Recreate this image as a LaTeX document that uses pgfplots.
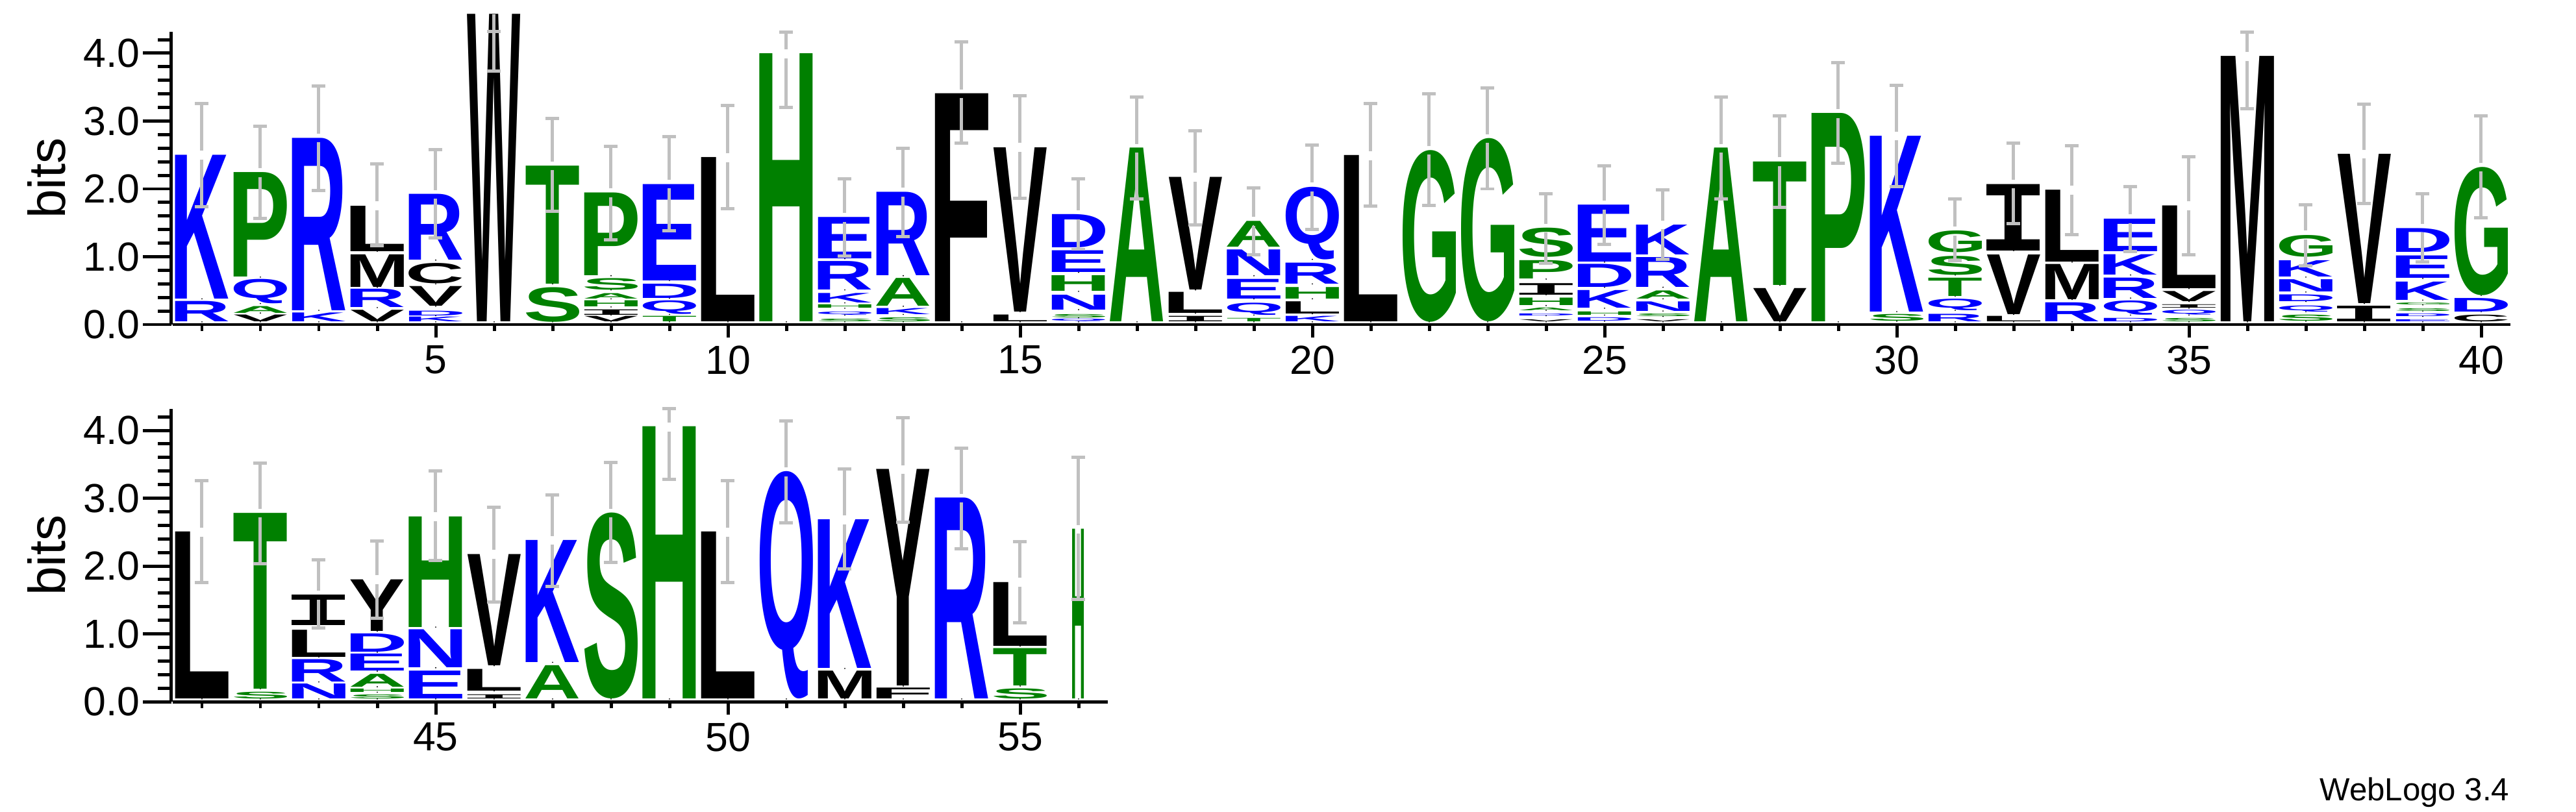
\documentclass[border=0pt]{standalone}
\usepackage{fontspec}
\setmainfont{Liberation Sans}
\newfontfamily\logofont{Liberation Sans}
\newfontfamily\logomono{Liberation Mono}
\usepackage{graphicx}
\usepackage{xcolor}
\usepackage{pgfplots}
\usepackage{pgfplotstable}
\pgfplotsset{compat=1.18}

% letter colours
\definecolor{lgreen}{RGB}{0,128,0}
\definecolor{lblue}{RGB}{0,0,255}
\definecolor{errgray}{RGB}{192,192,192}
\colorlet{cP}{lgreen}\colorlet{cA}{lgreen}\colorlet{cS}{lgreen}
\colorlet{cT}{lgreen}\colorlet{cG}{lgreen}\colorlet{cH}{lgreen}
\colorlet{cK}{lblue}\colorlet{cR}{lblue}\colorlet{cD}{lblue}
\colorlet{cE}{lblue}\colorlet{cN}{lblue}\colorlet{cQ}{lblue}
\colorlet{cL}{black}\colorlet{cV}{black}\colorlet{cI}{black}\colorlet{cM}{black}
\colorlet{cF}{black}\colorlet{cW}{black}\colorlet{cY}{black}\colorlet{cC}{black}

% one glyph, cut to its ink box, stretched to width x height
% (I is taken from the mono face, which has the cross bars)
\newbox\lbox
\newcommand\logoglyph[3]{%
  \setbox\lbox\hbox{\if#1I\logomono\else\logofont\fi\bfseries
    \kern-\XeTeXglyphbounds1 \XeTeXcharglyph`#1\relax
    #1%
    \kern-\XeTeXglyphbounds3 \XeTeXcharglyph`#1\relax}%
  \textcolor{c#1}{\resizebox*{#2}{#3}{\box\lbox}}}
\newcommand\logonode{\edef\tmpL{\pgfplotspointmeta}%
  \expandafter\logoglyph\expandafter{\tmpL}{\ww pt}{\hh pt}}

% x y(bottom) h(ink height, bits) w(width share) letter
\pgfplotstableread{
x y h w L
1 0.04 0.30 1 R
1 0.38 2.12 1 K
2 0.04 0.10 1 V
2 0.17 0.10 1 A
2 0.31 0.36 1 Q
2 0.70 1.54 1 P
3 0.04 0.13 1 K
3 0.21 2.54 1 R
4 0.04 0.17 1 V
4 0.25 0.27 1 R
4 0.55 0.48 1 M
4 1.08 0.67 1 L
5 0.04 0.07 1 K
5 0.13 0.07 1 D
5 0.27 0.29 1 V
5 0.60 0.30 1 C
5 0.95 0.97 1 R
6 0.04 4.53 1 W
7 0.04 0.51 1 S
7 0.60 1.74 1 T
8 0.04 0.08 1 V
8 0.14 0.08 1 I
8 0.26 0.09 1 H
8 0.38 0.08 1 A
8 0.51 0.17 1 S
8 0.72 1.22 1 P
9 0.04 0.08 1 T
9 0.15 0.20 1 Q
9 0.39 0.21 1 D
9 0.65 1.42 1 E
10 0.04 2.42 1 L
11 0.04 3.95 1 H
12 0.04 0.04 1 S
12 0.14 0.05 1 Q
12 0.24 0.05 1 H
12 0.32 0.14 1 K
12 0.51 0.42 1 R
12 0.97 0.61 1 E
13 0.04 0.06 1 S
13 0.15 0.09 1 K
13 0.27 0.41 1 A
13 0.72 1.23 1 R
14 0.04 3.36 1 F
15 0.04 0.10 1 L
15 0.19 2.42 1 V
16 0.04 0.04 1 Q
16 0.10 0.05 1 S
16 0.22 0.22 1 N
16 0.49 0.23 1 H
16 0.77 0.32 1 E
16 1.13 0.49 1 D
17 0.04 2.56 1 A
18 0.04 0.08 1 I
18 0.17 0.31 1 L
18 0.51 1.66 1 V
19 0.04 0.05 1 T
19 0.14 0.18 1 Q
19 0.38 0.29 1 E
19 0.72 0.38 1 N
19 1.14 0.38 1 A
20 0.04 0.08 1 K
20 0.16 0.18 1 L
20 0.38 0.17 1 H
20 0.60 0.31 1 R
20 0.96 1.07 1 Q
21 0.04 2.45 1 L
22 0.04 2.53 1 G
23 0.04 2.70 1 G
24 0.04 0.03 1 V
24 0.13 0.03 1 D
24 0.21 0.04 1 A
24 0.28 0.11 1 H
24 0.44 0.17 1 I
24 0.67 0.27 1 P
24 0.99 0.43 1 S
25 0.05 0.05 1 D
25 0.14 0.05 1 H
25 0.24 0.26 1 K
25 0.55 0.34 1 D
25 0.92 0.84 1 E
26 0.04 0.03 1 V
26 0.12 0.04 1 S
26 0.20 0.14 1 N
26 0.38 0.12 1 A
26 0.55 0.44 1 R
26 1.03 0.44 1 K
27 0.04 2.56 1 A
28 0.04 0.49 1 V
28 0.58 1.82 1 T
29 0.04 3.07 1 P
30 0.05 0.10 1 S
30 0.19 2.59 1 K
31 0.04 0.11 1 R
31 0.21 0.17 1 Q
31 0.42 0.27 1 T
31 0.73 0.28 1 S
31 1.06 0.32 1 G
32 0.04 0.08 1 L
32 0.15 0.88 1 V
32 1.09 0.98 1 I
33 0.04 0.28 1 R
33 0.37 0.52 1 M
33 0.92 1.06 1 L
34 0.04 0.05 1 D
34 0.14 0.21 1 Q
34 0.39 0.30 1 R
34 0.73 0.30 1 K
34 1.08 0.48 1 E
35 0.04 0.05 1 S
35 0.14 0.07 1 Q
35 0.24 0.05 1 I
35 0.34 0.15 1 V
35 0.53 1.22 1 L
36 0.04 3.91 1 M
37 0.05 0.09 1 S
37 0.19 0.09 1 Q
37 0.34 0.10 1 D
37 0.48 0.18 1 N
37 0.70 0.24 1 K
37 1.00 0.32 1 G
38 0.04 0.23 1 I
38 0.31 2.20 1 V
39 0.04 0.03 1 E
39 0.12 0.04 1 D
39 0.20 0.04 1 S
39 0.29 0.03 1 G
39 0.36 0.27 1 K
39 0.68 0.33 1 E
39 1.07 0.35 1 D
40 0.04 0.10 1 C
40 0.19 0.20 1 D
40 0.43 1.89 1 G
}\toplogo

\pgfplotstableread{
x y h w L
41 0.04 2.46 1 L
42 0.04 0.10 1 S
42 0.19 2.59 1 T
43 0.04 0.22 1 N
43 0.29 0.33 1 R
43 0.66 0.40 1 L
43 1.12 0.45 1 I
44 0.04 0.06 1 S
44 0.14 0.05 1 H
44 0.22 0.19 1 A
44 0.45 0.25 1 E
44 0.73 0.27 1 D
44 1.04 0.76 1 Y
45 0.04 0.41 1 E
45 0.50 0.56 1 N
45 1.10 1.63 1 H
46 0.04 0.06 1 I
46 0.16 0.32 1 L
46 0.53 1.64 1 V
47 0.04 0.49 1 A
47 0.58 1.80 1 K
48 0.04 2.74 1 S
49 0.04 4.01 1 H
50 0.04 2.46 1 L
51 0.04 3.35 1 Q
52 0.04 0.41 1 M
52 0.49 2.19 1 K
53 0.04 0.16 1 F
53 0.23 3.19 1 Y
54 0.04 2.96 1 R
55 0.04 0.15 1 S
55 0.23 0.55 1 T
55 0.82 0.94 1 L
56 0.04 2.50 0.22 H
}\botlogo

% stack top t, upper cap u, lower cap l
\pgfplotstableread{
x t u l
1 2.50 3.26 1.74
2 2.24 2.92 1.56
3 2.75 3.52 1.98
4 1.75 2.37 1.16
5 1.92 2.58 1.28
7 2.34 3.04 1.67
8 1.94 2.63 1.25
9 2.07 2.77 1.38
10 2.46 3.23 1.71
11 3.99 4.31 3.20
12 1.58 2.15 1.01
13 1.95 2.60 1.30
14 3.40 4.17 2.67
15 2.61 3.37 1.86
16 1.62 2.15 1.11
17 2.60 3.35 1.85
18 2.17 2.86 1.47
19 1.52 2.01 1.03
20 2.03 2.65 1.40
21 2.49 3.26 1.75
22 2.57 3.40 1.76
23 2.74 3.49 2.00
24 1.42 1.93 0.90
25 1.76 2.34 1.18
26 1.47 1.99 0.96
27 2.60 3.35 1.85
28 2.40 3.08 1.73
29 3.11 3.86 2.38
30 2.78 3.53 2.03
31 1.38 1.85 0.94
32 2.07 2.67 1.49
33 1.98 2.64 1.33
34 1.56 2.03 1.08
35 1.75 2.47 1.03
36 3.95 4.31 3.18
37 1.32 1.77 0.87
38 2.51 3.25 1.78
39 1.42 1.93 0.92
40 2.32 3.08 1.57
}\toperr

\pgfplotstableread{
x t u l
41 2.50 3.26 1.76
42 2.78 3.52 2.03
43 1.57 2.09 1.09
44 1.80 2.37 1.23
45 2.73 3.40 2.08
46 2.17 2.87 1.47
47 2.38 3.05 1.70
48 2.78 3.53 2.05
49 4.05 4.32 3.28
50 2.50 3.26 1.76
51 3.39 4.14 2.64
52 2.68 3.43 1.96
53 3.42 4.19 2.65
54 3.00 3.74 2.25
55 1.76 2.36 1.16
56 2.54 3.60 1.51
}\boterr

\pgfplotsset{
  logo/.style={
    x=0.9cm, y=1.045cm, ymin=0, ymax=4.32, clip=false,
    anchor=south west, tick align=outside,
    axis line style={line width=1.42pt},
    tick style={line width=1.42pt, black},
    tick label style={font=\fontsize{17.8}{20}\selectfont},
    /pgf/number format/assume math mode=true,
  },
  xpart/.style={axis x line*=bottom, hide y axis,
    major tick length=0.2cm, minor tick length=0.1cm},
  ypart/.style={axis y line*=left, hide x axis,
    major tick length=0.43cm, minor tick length=0.2cm,
    ytick={0,1,2,3,4},
    minor ytick={0.2,0.4,0.6,0.8,1.2,1.4,1.6,1.8,2.2,2.4,2.6,2.8,3.2,3.4,3.6,3.8,4.2},
    yticklabel={\pgfmathprintnumber[fixed,fixed zerofill,precision=1]{\tick}},
    yticklabel style={inner xsep=0.04cm},
    ylabel={bits},
    ylabel style={font=\fontsize{22.8}{26}\selectfont,
      at={(axis description cs:0,0.5)}, anchor=center, yshift=1.92cm}},
  letters/.style={only marks, mark=*, mark size=0.01pt,
    mark options={draw=none, fill=none},
    point meta=explicit symbolic,
    visualization depends on={\thisrow{h}*29.733 \as \hh},
    visualization depends on={\thisrow{w}*23.33 \as \ww},
    nodes near coords={\logonode},
    nodes near coords align={center},
    every node near coord/.style={anchor=south, inner sep=0pt, outer sep=0pt}},
  errbar/.style={draw=none, mark=none,
    error bars/.cd, y dir=#1, y explicit, error mark=-,
    error bar style={draw=errgray, line width=1.42pt},
    error mark options={rotate=90, draw=errgray, line width=1.42pt, mark size=3pt}},
}

\begin{document}
\begin{tikzpicture}
\useasboundingbox (0,0) rectangle (39.67,-12.5);

% ---- first row, positions 1-40
\begin{axis}[logo, xpart, at={(2.66cm,-5cm)},
    xmin=0.5, xmax=40.5,
    xtick={5,10,...,40}, minor xtick={1,...,40}]
\addplot[letters] table[x=x, y=y, meta=L] {\toplogo};
\end{axis}
% y axis and error bars drawn over the letters
\begin{axis}[logo, ypart, at={(2.635cm,-5cm)}, xmin=0.475, xmax=40.475]
\addplot[errbar=plus] table[x=x, y expr=\thisrow{t}+0.065,
    y error expr=\thisrow{u}-\thisrow{t}-0.065] {\toperr};
\addplot[errbar=minus] table[x=x, y expr=\thisrow{t}-0.065,
    y error expr=\thisrow{t}-0.065-\thisrow{l}] {\toperr};
% W at 6 runs past the top, its bar is clipped at 4.32
\addplot[errbar=minus] coordinates {(6,4.57) +- (0,0.25) (6,4.505) +- (0,0.765)};
\end{axis}

% ---- second row, positions 41-56
\begin{axis}[logo, xpart, at={(2.66cm,-10.81cm)},
    xmin=40.5, xmax=56.5,
    xtick={45,50,55}, minor xtick={41,...,56}]
\addplot[letters] table[x=x, y=y, meta=L] {\botlogo};
\end{axis}
\begin{axis}[logo, ypart, at={(2.635cm,-10.81cm)}, xmin=40.475, xmax=56.475]
\addplot[errbar=plus] table[x=x, y expr=\thisrow{t}+0.065,
    y error expr=\thisrow{u}-\thisrow{t}-0.065] {\boterr};
\addplot[errbar=minus] table[x=x, y expr=\thisrow{t}-0.065,
    y error expr=\thisrow{t}-0.065-\thisrow{l}] {\boterr};
\end{axis}

\node[anchor=base east, inner sep=0pt, font=\fontsize{14}{16}\selectfont]
  at (38.65,-12.33) {WebLogo 3.4};
\end{tikzpicture}
\end{document}
